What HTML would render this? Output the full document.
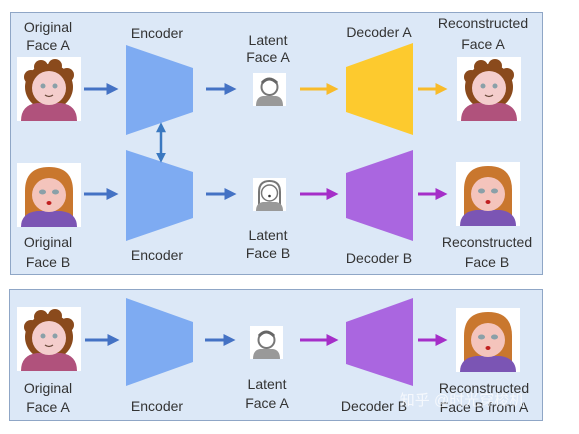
<!DOCTYPE html>
<html><head><meta charset="utf-8"><style>
html,body{margin:0;padding:0;background:#fff;width:579px;height:434px;overflow:hidden}
text{font-family:"Liberation Sans","Noto Sans CJK SC",sans-serif;font-size:14px;fill:#333;text-anchor:middle}
</style></head><body>
<svg width="579" height="434" viewBox="0 0 579 434" xmlns="http://www.w3.org/2000/svg">
<defs>
<g id="fa">
<rect width="64" height="64" fill="#fff"/>
<ellipse cx="32" cy="30" rx="24" ry="23" fill="#8a4a1c"/>
<circle cx="14" cy="20" r="7" fill="#8a4a1c"/><circle cx="24" cy="10" r="7" fill="#8a4a1c"/><circle cx="38" cy="9" r="7" fill="#8a4a1c"/><circle cx="50" cy="18" r="7" fill="#8a4a1c"/>
<path d="M4 64 Q4 48 20 46 L44 46 Q60 48 60 64 Z" fill="#b0527c"/>
<circle cx="32" cy="31" r="17" fill="#f4cdcc"/>
<circle cx="26" cy="29" r="2.5" fill="#8aa0a8"/><circle cx="38" cy="29" r="2.5" fill="#8aa0a8"/>
<path d="M28 38 Q32 41 36 38" stroke="#6a4a3a" stroke-width="1.3" fill="none"/>
</g>
<g id="fb">
<rect width="64" height="64" fill="#fff"/>
<path d="M8 56 L8 28 Q8 4 32 4 Q56 4 56 28 L56 56 Z" fill="#c9772e"/>
<path d="M4 64 Q4 50 20 48 L44 48 Q60 50 60 64 Z" fill="#7b55b4"/>
<circle cx="32" cy="32" r="17" fill="#f4c4bc"/>
<ellipse cx="25.5" cy="29" rx="3.5" ry="2.5" fill="#8aa0a8"/><ellipse cx="38.5" cy="29" rx="3.5" ry="2.5" fill="#8aa0a8"/>
<ellipse cx="32" cy="40" rx="2.5" ry="2" fill="#c02020"/>
</g>
<g id="la">
<rect width="33" height="33" fill="#fff"/>
<circle cx="16.5" cy="14" r="8" fill="none" stroke="#777" stroke-width="2"/>
<path d="M9 10 Q16 2 24 10" stroke="#666" stroke-width="3" fill="none"/>
<path d="M3 33 Q3 24 10 23 L23 23 Q30 24 30 33 Z" fill="#999"/>
</g>
<g id="lb">
<rect width="33" height="33" fill="#fff"/>
<path d="M6 28 L6 14 Q6 3 16.5 3 Q27 3 27 14 L27 28" fill="none" stroke="#777" stroke-width="2"/>
<circle cx="16.5" cy="15" r="8" fill="#fff" stroke="#777" stroke-width="1.5"/>
<circle cx="16.5" cy="18" r="1.3" fill="#333"/>
<path d="M3 33 Q3 25 10 24 L23 24 Q30 25 30 33 Z" fill="#999"/>
</g>
<marker id="ab" markerWidth="4" markerHeight="4" refX="2.5" refY="2" orient="auto" markerUnits="strokeWidth"><path d="M0 0 L4 2 L0 4Z" fill="#4472c4"/></marker>
<marker id="ab2" markerWidth="4" markerHeight="4" refX="2.5" refY="2" orient="auto-start-reverse" markerUnits="strokeWidth"><path d="M0 0 L4 2 L0 4Z" fill="#3a78c0"/></marker>
<marker id="ay" markerWidth="4" markerHeight="4" refX="2.5" refY="2" orient="auto" markerUnits="strokeWidth"><path d="M0 0 L4 2 L0 4Z" fill="#f8bb2a"/></marker>
<marker id="ap" markerWidth="4" markerHeight="4" refX="2.5" refY="2" orient="auto" markerUnits="strokeWidth"><path d="M0 0 L4 2 L0 4Z" fill="#a52ec8"/></marker>
</defs>

<rect x="10.5" y="12.5" width="532" height="262" fill="#dce8f7" stroke="#8fa6c6" stroke-width="1"/>
<rect x="9.5" y="289.5" width="533" height="131" fill="#dce8f7" stroke="#8fa6c6" stroke-width="1"/>

<!-- top panel -->
<use href="#fa" x="17" y="57"/>
<use href="#fb" x="17" y="163"/>
<polygon points="126,45 193,68 193,112 126,135" fill="#7eabf2"/>
<polygon points="126,150 193,172 193,218 126,241" fill="#7eabf2"/>
<line x1="161" y1="126" x2="161" y2="159" stroke="#3a78c0" stroke-width="2.5" marker-start="url(#ab2)" marker-end="url(#ab2)"/>
<line x1="84" y1="89" x2="114" y2="89" stroke="#4472c4" stroke-width="3" marker-end="url(#ab)"/>
<line x1="84" y1="194" x2="114" y2="194" stroke="#4472c4" stroke-width="3" marker-end="url(#ab)"/>
<line x1="206" y1="89" x2="232" y2="89" stroke="#4472c4" stroke-width="3" marker-end="url(#ab)"/>
<line x1="206" y1="194" x2="232" y2="194" stroke="#4472c4" stroke-width="3" marker-end="url(#ab)"/>
<use href="#la" x="253" y="73"/>
<use href="#lb" x="253" y="178"/>
<line x1="300" y1="89" x2="334" y2="89" stroke="#f8bb2a" stroke-width="3" marker-end="url(#ay)"/>
<line x1="300" y1="194" x2="334" y2="194" stroke="#a52ec8" stroke-width="3" marker-end="url(#ap)"/>
<polygon points="346,67 413,43 413,135 346,112" fill="#fdca2e"/>
<polygon points="346,173 413,150 413,241 346,218" fill="#aa66e0"/>
<line x1="418" y1="89" x2="443" y2="89" stroke="#f8bb2a" stroke-width="3" marker-end="url(#ay)"/>
<line x1="418" y1="194" x2="443" y2="194" stroke="#a52ec8" stroke-width="3" marker-end="url(#ap)"/>
<use href="#fa" x="457" y="57"/>
<use href="#fb" x="456" y="162"/>

<text x="48" y="32">Original</text><text x="48" y="50">Face A</text>
<text x="157" y="38">Encoder</text>
<text x="268" y="45">Latent</text><text x="268" y="62">Face A</text>
<text x="379" y="37">Decoder A</text>
<text x="483" y="28">Reconstructed</text><text x="483" y="49">Face A</text>
<text x="48" y="247">Original</text><text x="48" y="267">Face B</text>
<text x="157" y="260">Encoder</text>
<text x="268" y="240">Latent</text><text x="268" y="258">Face B</text>
<text x="379" y="263">Decoder B</text>
<text x="487" y="247">Reconstructed</text><text x="487" y="267">Face B</text>

<!-- bottom panel -->
<use href="#fa" x="17" y="307"/>
<line x1="85" y1="340" x2="115" y2="340" stroke="#4472c4" stroke-width="3" marker-end="url(#ab)"/>
<polygon points="126,298 193,322 193,362 126,386" fill="#7eabf2"/>
<line x1="205" y1="340" x2="231" y2="340" stroke="#4472c4" stroke-width="3" marker-end="url(#ab)"/>
<use href="#la" x="250" y="326"/>
<line x1="300" y1="340" x2="334" y2="340" stroke="#a52ec8" stroke-width="3" marker-end="url(#ap)"/>
<polygon points="346,322 413,298 413,386 346,364" fill="#aa66e0"/>
<line x1="418" y1="340" x2="443" y2="340" stroke="#a52ec8" stroke-width="3" marker-end="url(#ap)"/>
<use href="#fb" x="456" y="308"/>

<text x="48" y="393">Original</text><text x="48" y="412">Face A</text>
<text x="157" y="411">Encoder</text>
<text x="267" y="389">Latent</text><text x="267" y="408">Face A</text>
<text x="374" y="411">Decoder B</text>
<text x="484" y="393">Reconstructed</text><text x="484" y="412">Face B from A</text>
<text x="462" y="405" style="fill:#fff;fill-opacity:0.7;font-size:15px">知乎 @时光穿梭机</text>
</svg>
</body></html>
